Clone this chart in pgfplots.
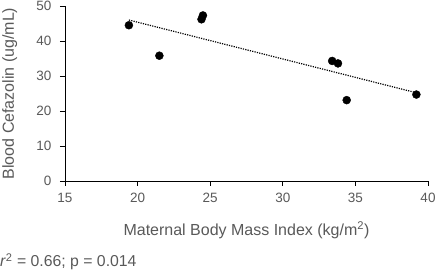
\documentclass[border=0pt]{standalone}
\usepackage{pgfplots}
\pgfplotsset{compat=1.18}
\usepackage{fontspec}
\setmainfont{Liberation Sans}
\definecolor{txtgray}{HTML}{595959}
\begin{document}
\begin{tikzpicture}[x=1pt,y=1pt]
\path[use as bounding box] (0,0) rectangle (438,275);
\begin{axis}[
  at={(65pt,94pt)}, anchor=south west,
  scale only axis, width=363pt, height=175pt,
  xmin=15, xmax=40, ymin=0, ymax=50,
  xtick={15,20,...,40}, ytick={0,10,...,50},
  axis x line*=bottom, axis y line*=left,
  axis line style={black, line width=0.8pt},
  tick style={black, line width=0.8pt},
  tick align=outside, major tick length=5pt,
  /pgf/number format/assume math mode=true,
  ticklabel style={font=\fontsize{13.5}{16}\selectfont, text=txtgray},
  yticklabel style={xshift=-5pt},
  xticklabel style={yshift=-4pt},
  label style={font=\fontsize{16}{19}\selectfont, text=txtgray},
  xlabel={Maternal Body Mass Index (kg/m\textsuperscript{2})},
  ylabel={Blood Cefazolin (ug/mL)},
  xlabel style={at={(axis description cs:0.5,-0.28)}, anchor=center},
  ylabel style={at={(axis description cs:-0.152,0.5)}, anchor=center},
  clip=false,
]
\addplot[only marks, mark=*, mark size=4pt, black] coordinates {
 (19.4,44.5) (21.5,35.8) (24.4,46.2) (24.5,47.3)
 (33.4,34.3) (33.8,33.6) (34.4,23.1) (39.2,24.7)
};
\addplot[black, line width=1.2pt, dash pattern=on 1.2pt off 1.2pt] coordinates {(19.4,46.0) (39.2,25.2)};
\end{axis}
\node[anchor=west, inner sep=0pt, font=\fontsize{15.8}{18}\selectfont, text=txtgray] at (0,13) {\textit{r}\textsuperscript{2} = 0.66; p = 0.014};
\end{tikzpicture}
\end{document}
